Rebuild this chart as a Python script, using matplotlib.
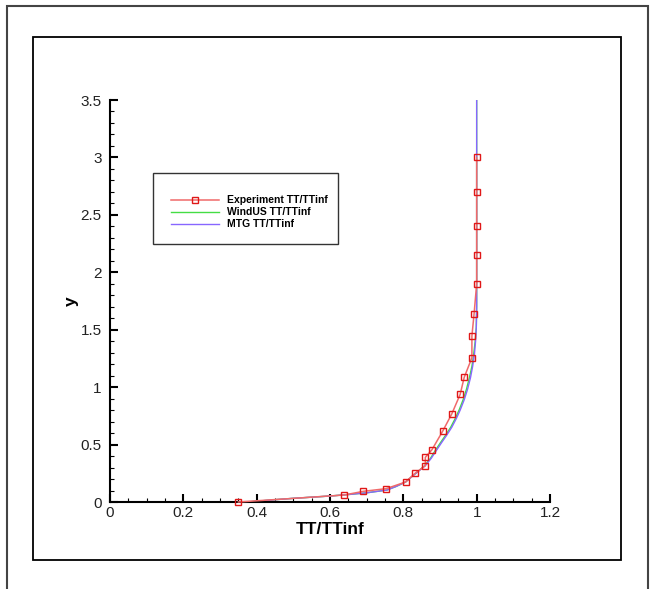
import matplotlib.pyplot as plt
from matplotlib.patches import Rectangle
from matplotlib.ticker import MultipleLocator

plt.rcParams['font.family'] = ['Liberation Sans', 'DejaVu Sans']

# experiment points
exp_tt = [0.35, 0.639, 0.691, 0.753, 0.806, 0.832, 0.860, 0.860, 0.878, 0.907,
          0.932, 0.955, 0.966, 0.987, 0.987, 0.993, 1.0, 1.0, 1.0, 1.0, 1.0]
exp_y = [0.0, 0.061, 0.093, 0.116, 0.174, 0.25, 0.316, 0.389, 0.455, 0.615,
         0.766, 0.937, 1.085, 1.256, 1.445, 1.64, 1.90, 2.15, 2.40, 2.70, 3.00]

# MTG solution
mtg_tt = [0.375, 0.45, 0.5, 0.6, 0.65, 0.7, 0.755, 0.78, 0.806, 0.832, 0.86, 0.876,
          0.891, 0.905, 0.918, 0.932, 0.945, 0.955, 0.966, 0.975, 0.983, 0.989, 0.994,
          0.997, 0.999, 1.0, 1.0, 1.0]
mtg_y = [0.0, 0.02, 0.032, 0.052, 0.065, 0.08, 0.104, 0.135, 0.174, 0.244, 0.316, 0.38,
         0.453, 0.52, 0.58, 0.65, 0.73, 0.80, 0.89, 0.98, 1.08, 1.18, 1.29,
         1.40, 1.52, 1.70, 2.2, 3.5]

# WindUS solution
wind_tt = [0.375, 0.45, 0.5, 0.6, 0.65, 0.7, 0.755, 0.78, 0.806, 0.832, 0.858, 0.874,
           0.888, 0.902, 0.915, 0.929, 0.942, 0.952, 0.963, 0.972, 0.980, 0.987, 0.992,
           0.996, 0.999, 1.0, 1.0, 1.0]
wind_y = mtg_y

x_ticks = [0, 0.2, 0.4, 0.6, 0.8, 1.0, 1.2]
x_labels = ['0', '0.2', '0.4', '0.6', '0.8', '1', '1.2']
y_ticks = [0, 0.5, 1, 1.5, 2, 2.5, 3, 3.5]
y_labels = ['0', '0.5', '1', '1.5', '2', '2.5', '3', '3.5']

fig = plt.figure(figsize=(6.51, 5.89), dpi=100)
W, H = 651, 589

# page frames
fig.patches.append(Rectangle((7 / W, -0.05), (648 - 7) / W, (H - 6) / H + 0.05,
                             transform=fig.transFigure, fill=False, ec='#444444', lw=1.5))
fig.patches.append(Rectangle((33 / W, 1 - 560 / H), (621 - 33) / W, (560 - 37) / H,
                             transform=fig.transFigure, fill=False, ec='black', lw=1.3))

ax = fig.add_axes([110 / W, 1 - 502 / H, 440 / W, 402 / H])

ax.plot(exp_tt, exp_y, color='#f06a6a', lw=1.1, marker='s', ms=4.5, mfc='none',
        mec='#e01818', mew=1.0, clip_on=False, label='Experiment TT/TTinf', zorder=3)
ax.plot(wind_tt, wind_y, color='#44dd44', lw=1.0, label='WindUS TT/TTinf', zorder=2)
ax.plot(mtg_tt, mtg_y, color='#8866ff', lw=1.0, label='MTG TT/TTinf', zorder=2)

ax.set_xlim(0, 1.2)
ax.set_ylim(0, 3.5)
ax.set_xticks(x_ticks)
ax.set_xticklabels(x_labels)
ax.set_yticks(y_ticks)
ax.set_yticklabels(y_labels)
ax.xaxis.set_minor_locator(MultipleLocator(0.05))
ax.yaxis.set_minor_locator(MultipleLocator(0.1))

for s in ['top', 'right']:
    ax.spines[s].set_visible(False)
for s in ['left', 'bottom']:
    ax.spines[s].set_linewidth(1.5)
ax.tick_params(which='major', direction='in', length=6, width=1.5, labelsize=11,
               colors='black', labelcolor='#222222')
ax.tick_params(axis='x', which='major', pad=3)
ax.tick_params(axis='y', which='major', pad=6)
ax.tick_params(which='minor', direction='in', length=3, width=0.8)

ax.set_xlabel('TT/TTinf', fontsize=12.5, fontweight='bold', labelpad=1)
ax.set_ylabel('y', fontsize=12.5, fontweight='bold', labelpad=1)

# legend box
ax.add_patch(Rectangle((43 / 440, (502 - 244) / 402), 185 / 440, 71 / 402,
                       transform=ax.transAxes, fill=False, ec='#333333', lw=1.0, zorder=5))
leg = ax.legend(loc='upper left', bbox_to_anchor=(56 / 440, (502 - 190) / 402),
                frameon=False, prop={'size': 7.5, 'weight': 'bold'},
                handlelength=4.6, handletextpad=0.8, labelspacing=0.2, borderpad=0)

fig.savefig('out.png', dpi=100)
